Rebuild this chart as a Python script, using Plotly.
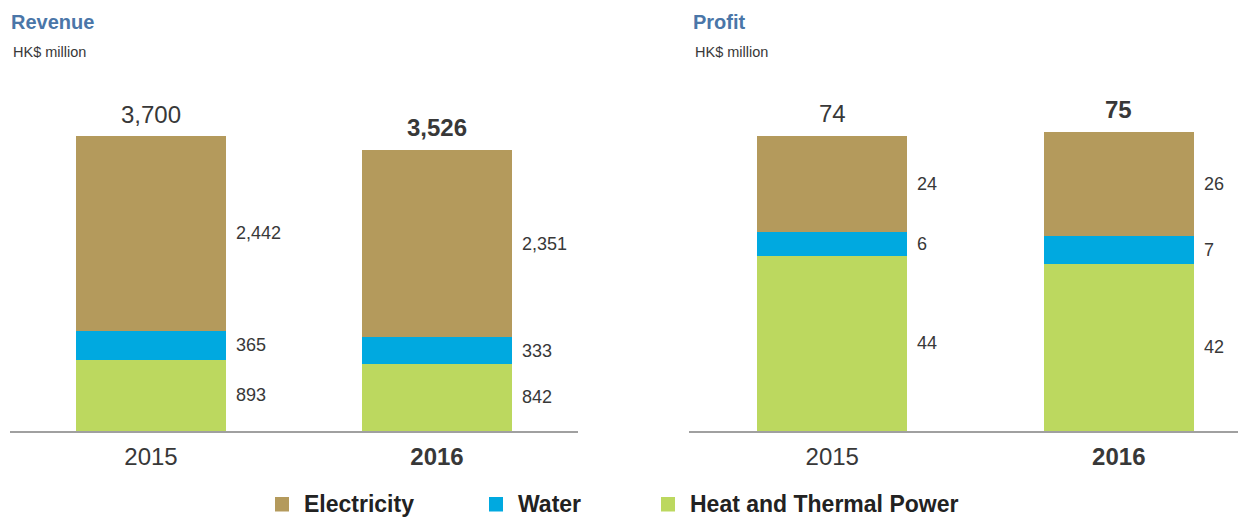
import plotly.graph_objects as go

years = ["2015", "2016"]
year_labels = ["2015", "<b>2016</b>"]
rev_elec = [2442, 2351]
rev_water = [365, 333]
rev_heat = [893, 842]
rev_total = [3700, 3526]
rev_total_labels = ["3,700", "<b>3,526</b>"]
pro_elec = [24, 26]
pro_water = [6, 7]
pro_heat = [44, 42]
pro_total = [74, 75]
pro_total_labels = ["74", "<b>75</b>"]

series_names = ["Electricity", "Water", "Heat and Thermal Power"]
colors = {"Electricity": "#b49a5c", "Water": "#00a9e0", "Heat and Thermal Power": "#bcd85f"}

W, H = 1246, 519
OFF = 8  # browser body margin
FONT = "Liberation Sans"
TXT = "#383838"


def px(x):
    return (x - OFF) / W


def py(y):
    return 1 - (y - OFF) / H


fig = go.Figure()
xs = [0, 1]
bw = 150 / 286


def add_panel(xa, ya, heat, water, elec):
    for name, vals in [("Heat and Thermal Power", heat), ("Water", water), ("Electricity", elec)]:
        fig.add_trace(go.Bar(x=xs, y=vals, name=name, marker=dict(color=colors[name], line=dict(width=0)),
                             width=bw, xaxis=xa, yaxis=ya, showlegend=False, hoverinfo="y"))


add_panel("x", "y", rev_heat, rev_water, rev_elec)
add_panel("x2", "y2", pro_heat, pro_water, pro_elec)

ann = []
shapes = []


def seg_labels(xref, yref, heat, water, elec, totals, total_labels, fmt):
    for i in range(2):
        base = 0
        for v in [heat[i], water[i], elec[i]]:
            ann.append(dict(x=xs[i], y=base + v / 2, xref=xref, yref=yref, text=fmt(v),
                            showarrow=False, xanchor="left", yanchor="middle", xshift=75 + 8,
                            font=dict(family=FONT, size=18, color=TXT)))
            base += v
        ann.append(dict(x=xs[i], y=totals[i], xref=xref, yref=yref, text=total_labels[i],
                        showarrow=False, xanchor="center", yanchor="middle", yshift=22,
                        font=dict(family=FONT, size=24, color=TXT)))


seg_labels("x", "y", rev_heat, rev_water, rev_elec, rev_total, rev_total_labels, lambda v: f"{v:,}")
seg_labels("x2", "y2", pro_heat, pro_water, pro_elec, pro_total, pro_total_labels, lambda v: f"{v}")

title_color = "#4a76a8"
for x0, t in [(9, "Revenue"), (691, "Profit")]:
    ann.append(dict(x=px(x0), y=py(22), xref="paper", yref="paper", text=f"<b>{t}</b>", showarrow=False,
                    xanchor="left", yanchor="middle", font=dict(family=FONT, size=20, color=title_color)))
    ann.append(dict(x=px(x0 + 2), y=py(52), xref="paper", yref="paper", text="HK$ million", showarrow=False,
                    xanchor="left", yanchor="middle", font=dict(family=FONT, size=14.5, color=TXT)))

# custom legend (kept fully inside the frame)
leg_x = {"Electricity": 275, "Water": 489, "Heat and Thermal Power": 661}
for name in series_names:
    x0 = leg_x[name]
    shapes.append(dict(type="rect", xref="paper", yref="paper", x0=px(x0), x1=px(x0 + 14),
                       y0=py(511.5), y1=py(497), fillcolor=colors[name], line=dict(width=0)))
    ann.append(dict(x=px(x0 + 27), y=py(504), xref="paper", yref="paper", text=f"<b>{name}</b>",
                    showarrow=False, xanchor="left", yanchor="middle",
                    font=dict(family=FONT, size=23, color="#222222")))

ydom = [py(431), py(100)]
xaxis_common = dict(tickvals=xs, ticktext=year_labels, showgrid=False, zeroline=False, showline=True,
                    linecolor="#a0a0a0", linewidth=2, ticks="", ticklabelstandoff=3,
                    tickfont=dict(family=FONT, size=24, color=TXT), fixedrange=True)
fig.update_layout(
    width=W, height=H,
    margin=dict(l=0, r=0, t=0, b=0),
    paper_bgcolor="white", plot_bgcolor="white",
    barmode="stack",
    xaxis=dict(domain=[px(10), px(578)], range=[-141 / 286, 1 + 141 / 286], anchor="y", **xaxis_common),
    xaxis2=dict(domain=[px(689), px(1246)], range=[-143 / 286, 1 + 127 / 286], anchor="y2", **xaxis_common),
    yaxis=dict(domain=ydom, range=[0, 331 * 12.545], visible=False, anchor="x", fixedrange=True),
    yaxis2=dict(domain=ydom, range=[0, 331 * 0.2508], visible=False, anchor="x2", fixedrange=True),
    annotations=ann,
    shapes=shapes,
    showlegend=False,
)

fig.write_html("out.html")
